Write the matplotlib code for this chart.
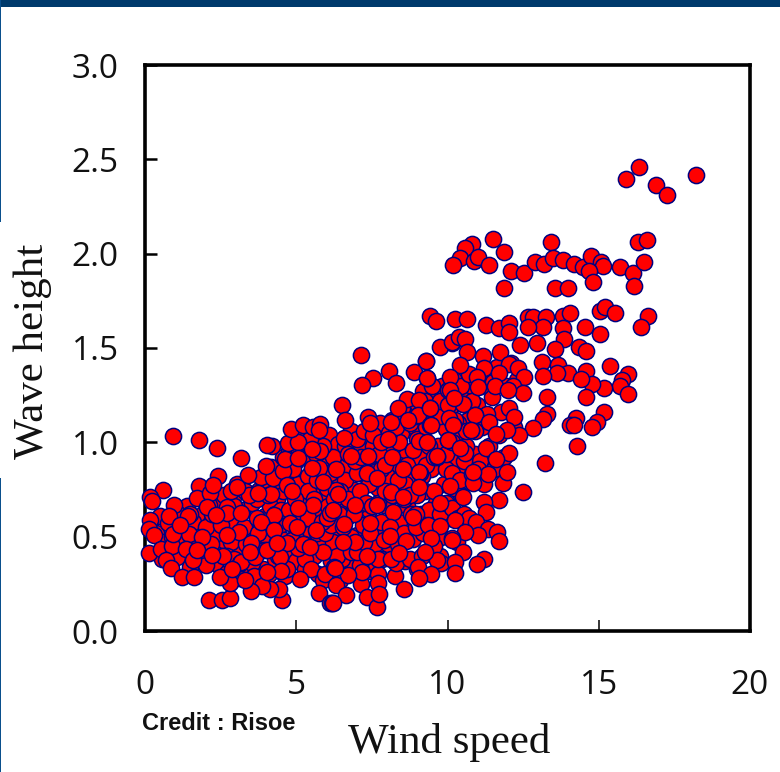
import matplotlib
matplotlib.use('Agg')
import matplotlib.pyplot as plt
from matplotlib.patches import Rectangle

W, H = 780, 772

# dense cloud, read roughly, drawn first
cloud_x = [0.35, 0.48, 0.62, 0.75, 1.05, 1.22, 1.38, 1.55, 1.68, 1.92,
           2.05, 2.18, 2.32, 2.46, 2.58, 2.72, 2.88, 2.95, 3.08, 3.22,
           3.31, 3.42, 3.55, 3.66, 3.78, 3.89, 3.96, 4.08, 4.17, 4.31,
           4.38, 4.45, 4.57, 4.62, 4.74, 4.81, 4.93, 4.98, 5.06, 5.14,
           5.22, 5.28, 5.37, 5.43, 5.52, 5.58, 5.66, 5.71, 5.83, 5.88,
           5.94, 6.02, 6.08, 6.15, 6.21, 6.33, 6.38, 6.46, 6.52, 6.59,
           6.67, 6.72, 6.81, 6.86, 6.92, 7.01, 7.06, 7.14, 7.22, 7.27,
           7.35, 7.41, 7.48, 7.57, 7.62, 7.69, 7.78, 7.84, 7.91, 7.97,
           8.04, 8.12, 8.18, 8.26, 8.33, 8.39, 8.47, 8.52, 8.6, 8.67,
           8.72, 8.78, 8.86, 8.93, 8.98, 9.05, 9.12, 9.18, 9.24, 9.31,
           9.37, 9.44, 9.5, 9.57, 9.63, 9.7, 9.76, 9.83, 9.88, 9.95,
           10.02, 10.09, 10.16, 10.23, 10.31, 10.38, 10.44, 10.52, 10.6, 10.68,
           10.75, 10.82, 10.9, 10.98, 11.06, 11.14, 11.22, 11.3, 11.38, 11.46,
           11.54, 11.62, 11.7, 11.78, 11.86, 11.94, 12.02, 12.1, 12.2, 12.3,
           1.1, 1.35, 1.6, 1.85, 2.12, 2.38, 2.62, 2.84, 3.05, 3.28,
           3.48, 3.7, 3.92, 4.12, 4.35, 4.55, 4.76, 4.96, 5.18, 5.38,
           5.6, 5.8, 6.0, 6.2, 6.4, 6.6, 6.8, 7.0, 7.2, 7.4,
           7.6, 7.8, 8.0, 8.2, 8.4, 8.6, 8.8, 9.0, 9.2, 9.4,
           4.2, 4.6, 5.0, 5.4, 5.8, 6.2, 6.6, 7.0, 7.4, 7.8,
           8.2, 8.6, 9.0, 9.4, 9.8, 10.2, 10.6, 11.0, 5.5, 6.5,
           3.1, 3.6, 4.1, 4.7, 5.3, 5.9, 6.4, 7.1, 7.7, 8.3,
           0.55, 0.9, 1.25, 1.5, 1.8, 2.0, 2.25, 2.5, 2.7, 2.95,
           3.15, 3.35, 3.55, 3.75, 3.95, 4.15, 4.4, 4.6, 4.85, 5.05,
           5.25, 5.5, 5.7, 5.95, 6.15, 6.35, 6.55, 6.8, 7.0, 7.25,
           7.45, 7.7, 7.9, 8.1, 8.35, 8.55, 8.75, 8.95, 9.15, 9.35,
           9.55, 9.75, 9.95, 10.15, 10.35, 10.55, 10.7, 3.3, 3.7, 4.05,
           4.3, 4.5, 4.75, 4.95, 5.2, 5.4, 5.6, 5.85, 6.05, 6.25,
           6.45, 6.7, 6.9, 7.1, 7.3, 7.5, 7.7, 7.95, 8.15, 8.35,
           8.55, 8.75, 8.95, 9.15, 9.3, 9.55, 9.75, 9.95, 10.15, 10.4,
           10.55, 4.4, 4.9, 5.1, 5.35, 5.65, 5.9, 6.1, 6.3, 6.7,
           6.95, 7.15, 7.35, 7.55, 7.75, 7.95, 8.15, 8.4, 8.65, 8.85,
           9.1, 9.3, 9.55, 9.75, 9.95, 10.15, 10.35, 10.6, 10.8, 8.05,
           8.3, 8.5, 8.75, 9.0, 9.25, 9.5, 9.75, 10.0, 10.25, 10.45,
           10.7, 10.9, 11.1, 11.3, 11.5, 7.0, 7.25, 7.55, 7.8, 5.2,
           5.45, 5.7, 6.0, 6.3, 2.6, 2.95, 1.5, 2.2, 9.8, 10.5]
cloud_y = [0.52, 0.61, 0.47, 0.57, 0.39, 0.55, 0.66, 0.44, 0.53, 0.62,
           0.44, 0.58, 0.36, 0.69, 0.48, 0.31, 0.57, 0.72, 0.42, 0.64,
           0.34, 0.52, 0.68, 0.46, 0.75, 0.33, 0.61, 0.49, 0.87, 0.38,
           0.70, 0.56, 0.92, 0.29, 0.43, 0.83, 0.62, 0.37, 0.78, 0.52,
           0.95, 0.33, 0.65, 0.44, 0.86, 0.57, 1.00, 0.30, 0.72, 0.46,
           0.91, 0.58, 1.04, 0.37, 0.81, 0.53, 0.99, 0.27, 0.69, 0.44,
           0.88, 0.61, 1.06, 0.35, 0.75, 0.51, 0.97, 0.25, 0.83, 0.43,
           1.04, 0.64, 0.32, 0.90, 0.55, 0.76, 1.10, 0.38, 0.67, 0.98,
           0.46, 0.85, 1.12, 0.29, 0.72, 0.58, 1.05, 0.93, 0.37, 0.66,
           1.20, 0.80, 0.49, 1.08, 0.33, 0.92, 0.62, 1.27, 0.74, 0.42,
           1.15, 0.86, 0.55, 1.22, 0.68, 0.98, 0.40, 1.30, 0.78, 1.07,
           0.60, 1.18, 0.90, 1.33, 0.47, 1.02, 0.72, 1.26, 0.85, 1.12,
           0.56, 1.30, 0.94, 1.20, 0.90, 1.08, 0.78, 1.38, 0.98, 1.24,
           0.86, 1.40, 1.04, 1.16, 0.92, 1.30, 1.18, 1.42, 1.08, 1.33,
           0.62, 0.46, 0.58, 0.41, 0.67, 0.52, 0.62, 0.47, 0.78, 0.55,
           0.42, 0.60, 0.78, 0.66, 0.47, 0.74, 0.95, 0.55, 0.68, 0.82,
           0.40, 0.62, 0.76, 0.47, 0.62, 0.80, 0.50, 0.66, 0.56, 0.78,
           0.46, 0.58, 0.82, 0.63, 0.88, 0.78, 0.62, 0.72, 0.52, 0.98,
           0.98, 0.84, 0.90, 0.74, 0.88, 0.92, 0.98, 0.84, 0.92, 0.86,
           0.98, 1.15, 1.02, 0.64, 0.50, 0.76, 0.98, 0.86, 0.52, 0.38,
           0.28, 0.27, 0.30, 0.33, 0.38, 0.27, 0.30, 0.35, 0.30, 0.36,
           0.38, 0.50, 0.50, 0.34, 0.48, 0.55, 0.42, 0.56, 0.40, 0.38,
           0.36, 0.46, 0.36, 0.52, 0.43, 0.57, 0.40, 0.48, 0.48, 0.44,
           0.46, 0.33, 0.52, 0.52, 0.56, 0.40, 0.55, 0.42, 0.42, 0.47,
           0.52, 0.38, 0.48, 0.55, 0.46, 0.52, 0.38, 0.55, 0.40, 0.56,
           0.45, 0.62, 0.68, 0.65, 0.60, 0.62, 0.60, 0.74, 0.70, 0.72,
           0.62, 0.64, 0.64, 0.70, 0.60, 0.60, 0.70, 0.58, 0.66, 0.70,
           0.74, 0.70, 0.62, 0.74, 0.68, 0.66, 0.68, 0.74, 0.72, 0.80,
           0.70, 0.72, 0.62, 0.82, 0.88, 0.74, 0.68, 0.86, 0.84, 0.80,
           0.90, 0.80, 0.86, 0.96, 0.92, 0.94, 0.98, 0.84, 0.86, 0.94,
           0.90, 0.92, 0.84, 0.98, 0.94, 0.88, 0.92, 1.00, 0.88, 0.96,
           0.84, 1.08, 0.92, 1.14, 0.94, 1.00, 1.10, 1.06, 1.22, 1.05,
           1.08, 1.18, 1.10, 1.14, 1.22, 1.30, 1.22, 1.20, 1.12, 1.30,
           1.36, 1.06, 1.30, 1.15, 1.32, 1.02, 1.06, 1.04, 1.00, 1.05,
           1.02, 0.80, 0.60, 0.75, 0.72, 0.66, 0.62, 0.62, 0.36, 0.42]

# low and moderate wind, edge of the cloud
low_x = [0.91, 1.77, 2.37, 3.18, 4.03, 2.41, 0.58, 0.17, 0.22, 1.77,
         1.71, 2.15, 2.25, 0.96, 0.80, 0.17, 0.14, 0.30, 0.14, 0.53,
         0.88, 0.69, 0.86, 1.23, 1.63, 1.43, 1.45, 0.94, 1.36, 1.16,
         2.10, 2.53, 2.81, 2.81, 2.48, 3.18, 2.59, 2.17, 2.02, 1.60,
         2.04, 2.70, 2.70, 2.35, 3.18, 2.85, 3.45, 3.82, 4.16, 3.41,
         3.03, 3.75, 4.23, 3.99, 4.55, 4.64, 4.72, 5.07, 4.84, 5.21,
         5.54, 5.79, 5.76, 5.07, 5.79, 5.51, 5.76, 5.51, 4.68, 4.85,
         5.89, 5.56, 5.05, 4.79, 4.26, 3.82, 4.26, 3.12, 2.70, 3.50,
         3.64, 4.68, 5.22, 5.65, 5.87, 4.46, 4.49, 3.60, 5.12, 5.95,
         5.76, 6.12, 4.52, 4.42, 4.13, 3.86, 3.49, 2.87, 3.31, 4.02,
         4.02, 3.47, 1.87, 1.71, 2.20, 4.35, 5.01, 5.45, 6.12, 6.19,
         6.31, 6.25]
low_y = [1.032, 1.012, 0.970, 0.917, 0.987, 0.821, 0.746, 0.712, 0.690, 0.767,
         0.706, 0.731, 0.774, 0.669, 0.608, 0.588, 0.541, 0.509, 0.415, 0.433,
         0.450, 0.376, 0.332, 0.286, 0.286, 0.608, 0.512, 0.515, 0.436, 0.562,
         0.164, 0.164, 0.173, 0.253, 0.288, 0.364, 0.399, 0.461, 0.350, 0.376,
         0.659, 0.659, 0.624, 0.615, 0.624, 0.744, 0.721, 0.815, 0.726, 0.827,
         0.765, 0.730, 0.811, 0.874, 0.850, 0.910, 0.998, 1.000, 1.069, 1.090,
         1.083, 1.097, 1.065, 0.918, 0.955, 0.963, 0.864, 0.862, 0.774, 0.744,
         0.791, 0.669, 0.652, 0.574, 0.616, 0.579, 0.535, 0.523, 0.510, 0.464,
         0.394, 0.464, 0.461, 0.535, 0.419, 0.394, 0.316, 0.293, 0.276, 0.302,
         0.200, 0.148, 0.164, 0.223, 0.223, 0.238, 0.212, 0.329, 0.270, 0.314,
         0.429, 0.420, 0.500, 0.429, 0.403, 0.466, 0.553, 0.447, 0.625, 0.147,
         0.244, 0.337]

# middle part, wind 6 to 12
mid_x = [7.13, 7.53, 7.17, 8.08, 8.30, 8.89, 9.28, 9.32, 6.52, 6.61,
         7.38, 7.45, 8.14, 8.02, 8.66, 9.06, 8.36, 9.43, 9.01, 8.68,
         9.42, 10.19, 10.06, 10.79, 10.90, 10.52, 10.03, 10.15, 9.07, 10.01,
         10.58, 9.65, 9.06, 12.49, 10.80, 11.35, 10.85, 11.85, 11.70, 11.21,
         11.27, 10.09, 10.52, 9.06, 8.53, 7.38, 6.80, 6.58, 7.66, 8.14,
         8.54, 7.66, 6.94, 6.39, 6.23, 8.85, 10.25, 7.44, 6.58, 9.76,
         10.93, 11.35, 11.62, 11.70, 11.02, 10.58, 10.15, 9.44, 8.64, 8.10,
         6.94, 6.56, 7.35, 8.14, 9.01, 9.65, 10.25, 10.25, 11.22, 10.98,
         9.44, 8.57, 7.71, 7.17, 6.72, 6.28, 6.63, 7.33, 7.66, 6.23,
         7.75, 9.07, 8.40, 10.14, 9.26]
mid_y = [1.464, 1.342, 1.305, 1.379, 1.316, 1.371, 1.431, 1.342, 1.199, 1.118,
         1.136, 1.100, 1.109, 1.016, 1.229, 1.224, 1.180, 1.180, 1.145, 1.118,
         1.092, 1.092, 1.127, 1.065, 1.145, 1.203, 1.277, 1.526, 1.008, 1.012,
         0.943, 0.924, 0.841, 0.738, 0.832, 0.832, 0.783, 0.783, 0.694, 0.685,
         0.632, 0.770, 0.712, 0.765, 0.857, 0.929, 0.929, 1.021, 0.809, 0.737,
         0.712, 0.668, 0.668, 0.726, 0.641, 0.606, 0.588, 0.574, 0.567, 0.556,
         0.579, 0.539, 0.526, 0.475, 0.510, 0.526, 0.493, 0.493, 0.479, 0.503,
         0.472, 0.473, 0.399, 0.383, 0.341, 0.375, 0.364, 0.309, 0.382, 0.355,
         0.302, 0.224, 0.253, 0.313, 0.295, 0.332, 0.191, 0.182, 0.129, 0.147,
         0.196, 0.281, 0.413, 0.482, 0.420]

# high wind, sparse part
high_x = [16.34, 15.91, 16.88, 17.27, 18.23, 11.49, 10.80, 10.58, 11.87, 13.42,
          16.30, 16.58, 10.41, 10.19, 10.89, 11.01, 11.38, 12.09, 12.52, 12.89,
          13.19, 13.48, 13.81, 14.19, 14.49, 14.73, 15.06, 15.13, 14.67, 14.82,
          15.70, 16.14, 16.51, 16.18, 11.87, 13.54, 13.98, 9.43, 9.61, 10.24,
          10.63, 11.26, 11.70, 12.03, 12.03, 12.67, 12.84, 13.27, 13.17, 12.66,
          13.83, 14.05, 13.82, 13.86, 14.56, 15.05, 15.04, 15.22, 15.54, 16.63,
          16.40, 9.75, 10.14, 10.39, 10.58, 10.63, 11.18, 10.41, 9.29, 11.75,
          12.40, 12.95, 13.54, 14.35, 14.58, 13.11, 13.65, 12.03, 12.34, 11.22,
          11.71, 13.99, 13.62, 13.17, 12.54, 14.57, 15.38, 15.98, 15.76, 15.70,
          15.98, 15.16, 14.78, 14.41, 14.57, 13.28, 12.15, 10.97, 11.01, 11.57,
          12.49, 12.01, 9.33, 10.08, 10.08, 10.52, 10.22, 9.42, 10.91, 11.37,
          12.20, 13.28, 13.17, 12.84, 12.36, 11.96, 11.60, 10.78, 10.19, 9.44,
          10.03, 9.33, 14.25, 14.05, 14.19, 15.16, 14.93, 14.77, 14.29, 13.21,
          11.27, 12.03, 10.41, 11.60, 9.66, 10.85, 11.98]
high_y = [2.457, 2.397, 2.364, 2.310, 2.415, 2.077, 2.053, 2.032, 2.008, 2.060,
          2.060, 2.070, 1.975, 1.938, 1.960, 1.982, 1.938, 1.906, 1.895, 1.957,
          1.947, 1.975, 1.964, 1.947, 1.927, 1.990, 1.957, 1.936, 1.906, 1.851,
          1.930, 1.895, 1.955, 1.827, 1.818, 1.818, 1.818, 1.671, 1.641, 1.653,
          1.653, 1.620, 1.608, 1.631, 1.585, 1.662, 1.666, 1.666, 1.610, 1.613,
          1.671, 1.688, 1.606, 1.546, 1.611, 1.575, 1.694, 1.715, 1.687, 1.671,
          1.610, 1.507, 1.533, 1.560, 1.546, 1.480, 1.459, 1.410, 1.429, 1.480,
          1.516, 1.525, 1.496, 1.507, 1.485, 1.425, 1.410, 1.413, 1.395, 1.394,
          1.369, 1.369, 1.366, 1.349, 1.346, 1.378, 1.403, 1.362, 1.330, 1.298,
          1.254, 1.289, 1.309, 1.334, 1.238, 1.238, 1.298, 1.344, 1.291, 1.298,
          1.259, 1.277, 1.341, 1.344, 1.277, 1.203, 1.233, 1.184, 1.145, 1.110,
          1.136, 1.148, 1.125, 1.074, 1.037, 1.065, 1.042, 1.065, 1.090, 1.090,
          1.012, 1.003, 1.127, 1.090, 1.090, 1.161, 1.110, 1.083, 0.978, 0.892,
          0.971, 0.945, 0.971, 0.911, 0.927, 0.844, 0.844]

x_ticks = [0, 5, 10, 15, 20]
y_ticks = [0.0, 0.5, 1.0, 1.5, 2.0, 2.5, 3.0]

fig = plt.figure(figsize=(W / 100, H / 100), dpi=100)

# slide frame: band on top, strip on the left broken by the label
fig.patches.append(Rectangle((0, 1 - 7 / H), 1, 7 / H, transform=fig.transFigure, fc='#003a6c', ec='none'))
fig.patches.append(Rectangle((0, 1 - 222 / H), 1 / W, 222 / H, transform=fig.transFigure, fc='#0a4f8c', ec='none'))
fig.patches.append(Rectangle((0, 0), 1 / W, 294 / H, transform=fig.transFigure, fc='#0a4f8c', ec='none'))

ax = fig.add_axes([145 / W, 1 - 631 / H, 605 / W, 566 / H])
for xs, ys in [(cloud_x, cloud_y), (low_x, low_y), (mid_x, mid_y), (high_x, high_y)]:
    ax.scatter(xs, ys, s=136, c='#ff0000', edgecolors='#000080', linewidths=1.1, clip_on=False, zorder=3)

ax.set_xlim(0, 20)
ax.set_ylim(0, 3)
ax.set_xticks(x_ticks)
ax.set_yticks(y_ticks)
ax.set_yticklabels([f'{v:.1f}' for v in y_ticks])

for spine in ax.spines.values():
    spine.set_linewidth(2.6)
ax.tick_params(axis='x', direction='in', length=8, width=1.1, pad=27, labelsize=24)
ax.tick_params(axis='y', direction='in', length=8.5, width=1.8, pad=19, labelsize=24)
for label in ax.get_xticklabels() + ax.get_yticklabels():
    label.set_family('Open Sans')
    label.set_color('#111111')

fig.text(449 / W, 1 - 743 / H, 'Wind speed', family='Liberation Serif', fontsize=31, ha='center', va='center', color='#111111')
fig.text(33 / W, 1 - 351 / H, 'Wave height', family='Liberation Serif', fontsize=31, rotation=90, ha='center', va='center', color='#111111')
fig.text(219 / W, 1 - 724 / H, 'Credit : Risoe', family='Liberation Sans', fontweight='bold', fontsize=17, ha='center', va='center', color='#111111')

fig.savefig('out.png', dpi=100)
